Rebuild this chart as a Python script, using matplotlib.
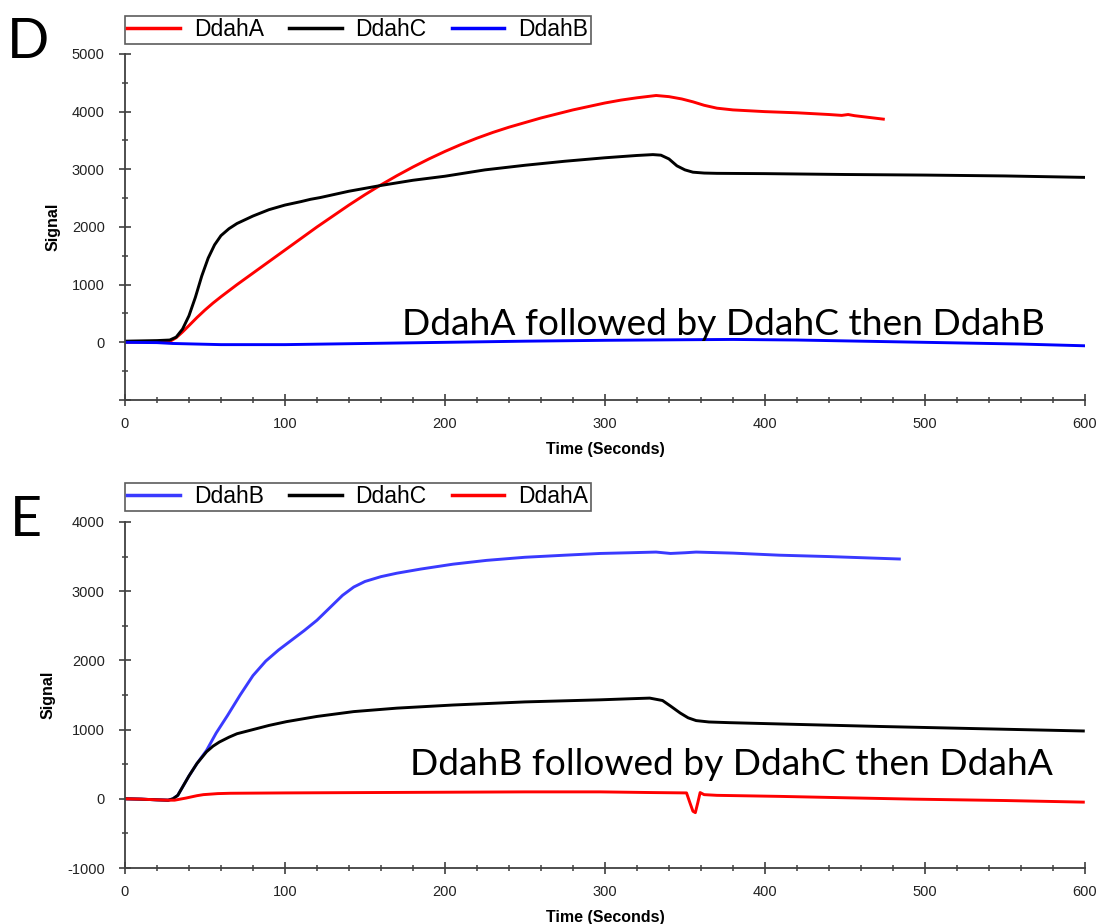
import matplotlib
matplotlib.use("Agg")
import matplotlib.pyplot as plt
from matplotlib.ticker import MultipleLocator, FuncFormatter

plt.rcParams['font.family'] = ['Liberation Sans', 'DejaVu Sans']
plt.rcParams['axes.unicode_minus'] = False

# ---- panel D: DdahA, then DdahC, then DdahB ----
d_a_t = [0, 10, 20, 28, 32, 36, 40, 45, 50, 55, 60, 70, 80, 90, 100, 110, 120, 130, 140,
         150, 160, 170, 180, 190, 200, 210, 220, 230, 240, 250, 260, 270, 280, 290, 300,
         310, 320, 332, 340, 348, 355, 362, 370, 380, 400, 420, 440, 448, 452, 456, 465,
         474]
d_a_sig = [0, 5, 10, 15, 80, 180, 290, 430, 560, 680, 790, 1000, 1200, 1400, 1600, 1800,
           2000, 2190, 2380, 2560, 2730, 2890, 3040, 3180, 3310, 3430, 3540, 3640, 3730,
           3810, 3890, 3960, 4030, 4090, 4150, 4200, 4240, 4280, 4260, 4220, 4170, 4110,
           4060, 4030, 4000, 3980, 3950, 3935, 3950, 3930, 3900, 3870]

d_c_t = [0, 10, 20, 28, 32, 36, 40, 44, 48, 52, 56, 60, 65, 70, 80, 90, 100, 110, 116, 122,
         140, 160, 180, 200, 225, 250, 275, 300, 320, 330, 335, 340, 345, 350, 355, 362,
         370, 400, 450, 500, 550, 600]
d_c_sig = [20, 25, 30, 40, 90, 230, 460, 780, 1150, 1460, 1690, 1850, 1970, 2060, 2190,
           2300, 2380, 2440, 2480, 2510, 2620, 2720, 2810, 2880, 2990, 3070, 3140, 3200,
           3240, 3255, 3245, 3180, 3060, 2990, 2950, 2935, 2930, 2925, 2910, 2900, 2885,
           2860]

d_b_t = [0, 20, 30, 60, 100, 150, 200, 250, 300, 350, 380, 420, 470, 520, 560, 600]
d_b_sig = [0, -5, -20, -40, -40, -20, 0, 20, 35, 45, 50, 40, 15, -10, -30, -60]

# ---- panel E: DdahB, then DdahC, then DdahA ----
e_b_t = [0, 10, 20, 27, 30, 33, 36, 40, 45, 51, 57, 64, 72, 80, 88, 96, 104, 112, 120, 128,
         136, 143, 150, 160, 170, 185, 205, 226, 250, 275, 297, 315, 332, 341, 350, 357,
         380, 409, 440, 465, 484]
e_b_sig = [0, -5, -15, -20, 0, 50, 170, 330, 510, 700, 950, 1200, 1500, 1780, 1990, 2150,
           2290, 2430, 2580, 2760, 2940, 3060, 3140, 3210, 3260, 3320, 3390, 3445, 3490,
           3520, 3545, 3555, 3565, 3545, 3555, 3565, 3550, 3520, 3500, 3480, 3465]

e_c_t = [0, 10, 20, 27, 30, 33, 36, 40, 45, 51, 55, 59, 65, 70, 80, 90, 101, 120, 143, 170,
         205, 250, 297, 315, 328, 336, 341, 347, 352, 357, 365, 378, 420, 472, 530, 599]
e_c_sig = [0, -5, -15, -20, 0, 50, 170, 330, 510, 680, 760, 820, 890, 940, 1000, 1060,
           1115, 1190, 1260, 1310, 1355, 1400, 1430, 1445, 1455, 1420, 1340, 1240, 1170,
           1130, 1110, 1100, 1075, 1045, 1015, 980]

e_a_t = [0, 10, 20, 27, 31, 38, 45, 49, 58, 66, 100, 150, 200, 250, 297, 330, 351, 353,
         355, 356.5, 358, 359.5, 362, 370, 409, 450, 493, 550, 599]
e_a_sig = [0, -5, -15, -20, -20, 10, 45, 60, 75, 80, 85, 90, 95, 100, 100, 90, 85, -50,
           -180, -200, -60, 90, 60, 50, 35, 15, -5, -25, -48]

RED = '#ff0000'
BLUE = '#0000ff'
BLUE_E = '#3a3aff'


def style_axes(ax, ymin, ymax, hide_bottom_label=False):
    ax.set_xlim(0, 600)
    ax.set_ylim(ymin, ymax)
    for s in ('top', 'right'):
        ax.spines[s].set_visible(False)
    for s in ('left', 'bottom'):
        ax.spines[s].set_color('#404040')
        ax.spines[s].set_linewidth(1.3)
    ax.xaxis.set_major_locator(MultipleLocator(100))
    ax.xaxis.set_minor_locator(MultipleLocator(20))
    ax.yaxis.set_major_locator(MultipleLocator(1000))
    ax.yaxis.set_minor_locator(MultipleLocator(500))
    if hide_bottom_label:
        ax.yaxis.set_major_formatter(
            FuncFormatter(lambda v, p: '' if v <= ymin else '%d' % v))
    ax.tick_params(which='major', direction='inout', length=9, width=1.2,
                   color='#404040', labelsize=10.5, labelcolor='#222222')
    ax.tick_params(which='minor', direction='inout', length=5, width=1.1, color='#404040')
    ax.tick_params(axis='x', pad=8)
    ax.tick_params(axis='y', pad=10)
    ax.set_xlabel('Time (Seconds)', fontsize=11.5, fontweight='bold', labelpad=8)
    ax.set_ylabel('Signal', fontsize=11.5, fontweight='bold', labelpad=8)


fig = plt.figure(figsize=(11.02, 9.24), dpi=100)
ax1 = fig.add_axes([0.1134, 0.5671, 0.8711, 0.3745])
ax2 = fig.add_axes([0.1134, 0.0606, 0.8711, 0.3745])

lw = 2.1
ax1.plot(d_a_t, d_a_sig, color=RED, lw=lw, label='DdahA')
ax1.plot(d_c_t, d_c_sig, color='black', lw=lw, label='DdahC')
ax1.plot(d_b_t, d_b_sig, color=BLUE, lw=lw, label='DdahB')
style_axes(ax1, -1000, 5000, hide_bottom_label=True)

ax2.plot(e_b_t, e_b_sig, color=BLUE_E, lw=lw, label='DdahB')
ax2.plot(e_c_t, e_c_sig, color='black', lw=lw, label='DdahC')
ax2.plot(e_a_t, e_a_sig, color=RED, lw=lw, label='DdahA')
style_axes(ax2, -1000, 4000)

leg_kw = dict(loc='upper left', ncol=3, fontsize=16.5, frameon=True, fancybox=False,
              borderpad=0.1, handlelength=2.3, handletextpad=0.6, columnspacing=1.1,
              borderaxespad=0, bbox_transform=fig.transFigure)
for ax, top in ((ax1, 1 - 16 / 924), (ax2, 1 - 483 / 924)):
    leg = ax.legend(bbox_to_anchor=(125 / 1102, top), **leg_kw)
    leg.get_frame().set_edgecolor('#333333')
    leg.get_frame().set_linewidth(1.2)
    for h in leg.get_lines():
        h.set_linewidth(2.5)

ax1.text(374, 312, 'DdahA followed by DdahC then DdahB', fontsize=26.7,
         family=['Lato', 'DejaVu Sans'], ha='center', va='center')
ax2.text(379, 500, 'DdahB followed by DdahC then DdahA', fontsize=26.7,
         family=['Lato', 'DejaVu Sans'], ha='center', va='center')

fig.text(28 / 1102, 1 - 42 / 924, 'D', fontsize=40, family=['Lato', 'DejaVu Sans'],
         ha='center', va='center')
fig.text(26 / 1102, 1 - 521 / 924, 'E', fontsize=40, family=['Lato', 'DejaVu Sans'],
         ha='center', va='center')

fig.savefig('out.png', dpi=100)
